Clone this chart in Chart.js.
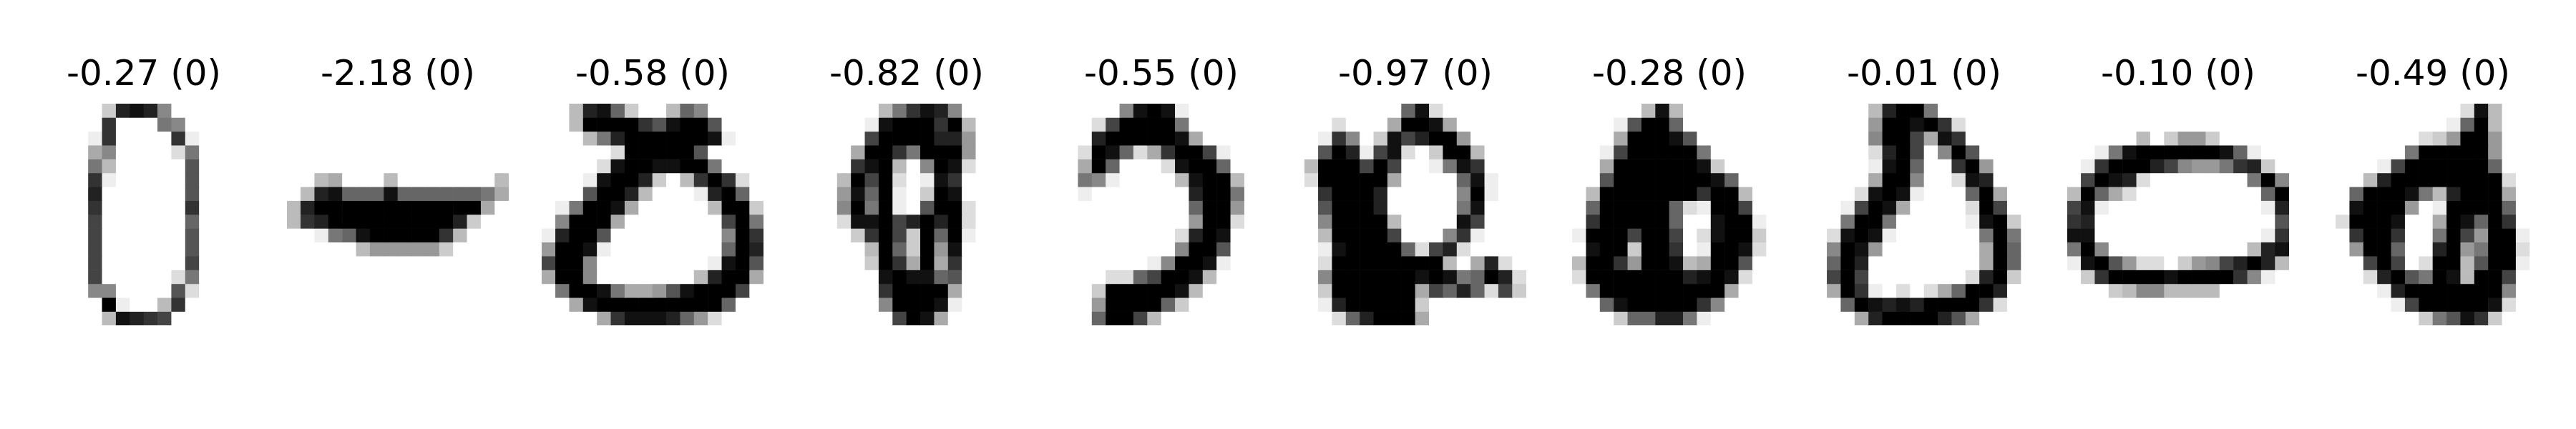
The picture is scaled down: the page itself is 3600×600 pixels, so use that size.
<!DOCTYPE html>
<html>
<head>
<meta charset="utf-8">
<script src="https://cdn.jsdelivr.net/npm/chart.js@4.4.1/dist/chart.umd.min.js"></script>
<style>
  html, body { margin: 0; padding: 0; background: #fff; overflow: hidden; }
  #wrap { position: relative; width: 3600px; height: 600px; background: #fff; }
  .cell { position: absolute; top: 0; width: 310px; height: 455px; }
</style>
</head>
<body>
<div id="wrap"></div>
<script>
// scores and labels shown above each digit
const scores = [-0.27, -2.18, -0.58, -0.82, -0.55, -0.97, -0.28, -0.01, -0.10, -0.49];
const labels = [0, 0, 0, 0, 0, 0, 0, 0, 0, 0];

// 16x16 digits, one hex char per pixel: 0 = white ... f = black
const digit1 = [
  "000003ded7000000", "00000c0008700000", "00001c0000c10000", "0000570000280000",
  "00008400000a0000", "0000c100000a0000", "0000d000000a0000", "0000c000000c0000",
  "0000b00000090000", "0000b000000a0000", "0000b000000a0000", "0000b000000b0000",
  "0000b00000280000", "0000770000a20000", "00000f1004c00000", "000004edcb000000"
];
const digit2 = [
  "0000000000000000", "0000000000000000", "0000000000000000", "0000000000000000",
  "0000000000000000", "0045000400000004", "04de999e99999985", "4dffffffffffff50",
  "4cdfffffffffd300", "00189efffffc4000", "0000046666630000", "0000000000000000",
  "0000000000000000", "0000000000000000", "0000000000000000", "0000000000000000"
];
const digit3 = [
  "004de93004970000", "004ffffcaeffa000", "00048dffffffe100", "000002fffffa0000",
  "00002effeeff8000", "0001effd304cfc20", "000affd40001df90", "018ffe5000004ff3",
  "07fff50000000bf8", "1dffa000000007fc", "6ffe1000000009fd", "bff7000000001efa",
  "5ff700000004dff5", "08ffe8556aefffb0", "005efffffffff900", "00005ceeed962000"
];
const digit4 = [
  "00000048ced70000", "000001efffcf4000", "00000bffffdd6000", "00005ffc8fff6000",
  "0000cef407fe2000", "0004fbf201ec0000", "0006e9f103fe0000", "0007f8f10aff2000",
  "0002eefbdfdf2000", "00003cfb3f9f1000", "000004f93f6e0000", "000003fc5f5c0000",
  "000000efee9a0000", "000000cffff50000", "0000007fffe10000", "0000000bfe500000"
];
const digit5 = [
  "000007efe1000000", "0002bffff8000000", "000dfffffe500000", "002fe925cffb1000",
  "005f90002eff9000", "0087100004eff400", "0010000000dff800", "00000000009ff600",
  "00000000006ff200", "0000000002dfe000", "0000000007ffa000", "000000017ffe1000",
  "0000229bffe40000", "0003fffffe400000", "0006ffff93000000", "0009ffb400000000"
];
const digit6 = [
  "00000009e2000000", "0020005ffe500000", "01c703ebdff60000", "0afd1be203ff4000",
  "4fffbfb0018ec000", "2fffff500009e100", "0cfffd000007f100", "0afffd000008e000",
  "07ffff40000eb000", "04ffffb0007c1000", "01effff92bd20000", "02ffffffff405d20",
  "07ffffffefe89fd2", "03ffffff5b9d92b3", "01dfffff30000000", "0029dfff50000000"
];
const digit7 = [
  "0000004e40000000", "00001aff90000000", "00005fffea000000", "0001bfffff800000",
  "0005ffffffe30000", "000afffffffe9000", "004fffffffcff400", "009fffff921ffb00",
  "00cfffff900eff10", "01fffbffb02eff30", "00eff3ffc01ffe20", "04ffc6ffe45ffa00",
  "02fffffffdefe200", "008fffffffff5000", "0009efffffc70000", "0000399dd8100000"
];
const digit8 = [
  "00004dff80000000", "00006ffefc200000", "00007ffb5ec00000", "00002dfb07fa0000",
  "00001ef900cf6000", "00005ff7002ed000", "0002efe10009f500", "001bfe500002fb00",
  "008ff8000001ef30", "02efe10000008f80", "07fe600000005f90", "09fd000000005f90",
  "0bfb00000002df30", "05fc1020259ffd00", "009fededffffc200", "0005dffffda50000"
];
const digit9 = [
  "0000000000000000", "0000000000000000", "0000040366300000", "0018effffffe9100",
  "01cfffdb7668cd30", "0bfed200000008f7", "4f9520000000009f", "be1000000000001d",
  "cd0000000000000a", "ee0000000000001c", "8f700000000004de", "1efa6220367bdfd4",
  "03cffffeffffc710", "0003477444400000", "0000000000000000", "0000000000000000"
];
const digit10 = [
  "00000000002e4000", "00000000019f4000", "0000000236ff6000", "0000008fffff6000",
  "00001bffffff9000", "0004dffffffff200", "009fffe84dfff500", "00efff601ffff900",
  "02fffe005fe9fc00", "00cffc008fb6ff10", "006ff900df68ff20", "000bfb02ff4aff10",
  "0002dfa8fe4ffb00", "00001dfffffff700", "000001bfffffe200", "000000038aec3000"
];

const digits = [digit1, digit2, digit3, digit4, digit5, digit6, digit7, digit8, digit9, digit10];
const colLabels = Array.from({ length: 16 }, (_, i) => String(i));

function grey(ch) {
    const v = 255 - parseInt(ch, 16) * 17;
    return 'rgb(' + v + ',' + v + ',' + v + ')';
}

function buildDatasets(rows) {
    return rows.map((row, r) => ({
        data: colLabels.map(() => [15 - r, 16 - r]),
        backgroundColor: row.split('').map(grey),
        borderWidth: 0,
        borderSkipped: false,
        grouped: false,
        barPercentage: 1,
        categoryPercentage: 1
    }));
}

const wrap = document.getElementById('wrap');

digits.forEach((rows, i) => {
    const box = document.createElement('div');
    box.className = 'cell';
    box.style.left = (46 + 355.4 * i) + 'px';
    const canvas = document.createElement('canvas');
    box.appendChild(canvas);
    wrap.appendChild(box);

    new Chart(canvas.getContext('2d'), {
        type: 'bar',
        data: {
            labels: colLabels,
            datasets: buildDatasets(rows)
        },
        options: {
            responsive: true,
            maintainAspectRatio: false,
            animation: false,
            events: [],
            layout: { padding: 0 },
            plugins: {
                legend: { display: false },
                tooltip: { enabled: false },
                title: {
                    display: true,
                    text: scores[i].toFixed(2) + ' (' + labels[i] + ')',
                    color: '#000',
                    font: { family: 'DejaVu Sans', size: 50, weight: 'normal', lineHeight: 1.2 },
                    padding: { top: 76, bottom: 9 }
                }
            },
            scales: {
                x: { display: false, offset: true },
                y: { display: false, min: 0, max: 16 }
            }
        }
    });
});
</script>
</body>
</html>
